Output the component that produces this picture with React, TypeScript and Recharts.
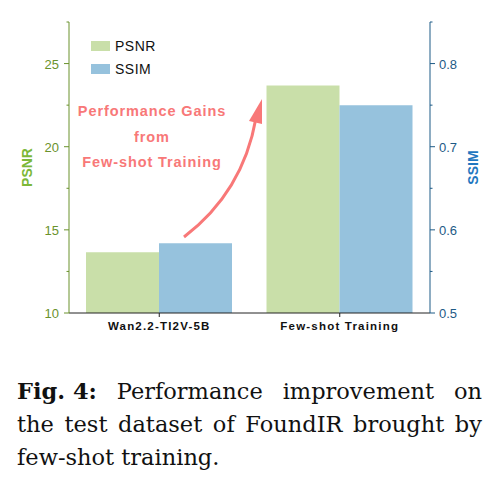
import { BarChart, Bar, XAxis, YAxis, Legend } from 'recharts';

const categories = ['Wan2.2-TI2V-5B', 'Few-shot Training'];
const psnr = [13.66, 23.68];
const ssim = [0.584, 0.75];

const psnrTicks = [10, 12.5, 15, 17.5, 20, 22.5, 25, 27.5];
const ssimTicks = [0.5, 0.55, 0.6, 0.65, 0.7, 0.75, 0.8, 0.85];
const psnrMajor = [10, 15, 20, 25];
const ssimMajor = [0.5, 0.6, 0.7, 0.8];

const data = categories.map((name, i) => ({ name, psnr: psnr[i], ssim: ssim[i] }));

const GREEN_BAR = '#c9dfa9';
const BLUE_BAR = '#96c2dd';
const GREEN_AXIS = '#6a922c';
const GREEN_LABEL = '#7cb838';
const BLUE_AXIS = '#1d5a86';
const BLUE_LABEL = '#1f77c0';
const ARROW = '#f87878';
const SANS = '"Liberation Sans", Arial, sans-serif';

const TICK_SIZE = 4;
const TICK_MARGIN = 6;

function LeftTick(props: any) {
  const { x, y, payload } = props;
  const axisX = x + TICK_SIZE + TICK_MARGIN;
  const major = psnrMajor.includes(payload.value);
  return (
    <g>
      <line x1={axisX - (major ? 5 : 2.5)} x2={axisX} y1={y} y2={y} stroke={GREEN_AXIS} strokeWidth={1} />
      {major && (
        <text x={axisX - 10} y={y} dy={5} textAnchor="end" fontSize={13} fill={GREEN_AXIS} fontFamily={SANS}>
          {payload.value}
        </text>
      )}
    </g>
  );
}

function RightTick(props: any) {
  const { x, y, payload } = props;
  const axisX = x - TICK_SIZE - TICK_MARGIN;
  const major = ssimMajor.includes(payload.value);
  return (
    <g>
      <line x1={axisX} x2={axisX + (major ? 5 : 2.5)} y1={y} y2={y} stroke={BLUE_AXIS} strokeWidth={1} />
      {major && (
        <text x={axisX + 9} y={y} dy={5} textAnchor="start" fontSize={13} fill={BLUE_AXIS} fontFamily={SANS}>
          {payload.value.toFixed(1)}
        </text>
      )}
    </g>
  );
}

function LegendBox() {
  const items = [
    { label: 'PSNR', color: GREEN_BAR },
    { label: 'SSIM', color: BLUE_BAR },
  ];
  return (
    <div style={{ fontFamily: SANS, fontSize: 14, color: '#111' }}>
      {items.map((it) => (
        <div key={it.label} style={{ display: 'flex', alignItems: 'center', height: 23 }}>
          <span style={{ display: 'inline-block', width: 19, height: 10, background: it.color, marginRight: 5 }} />
          <span style={{ letterSpacing: 0.5 }}>{it.label}</span>
        </div>
      ))}
    </div>
  );
}

export default function App() {
  return (
    <div style={{ position: 'absolute', left: 0, top: 0, width: 501, height: 485, background: '#fff', overflow: 'hidden' }}>
      <div style={{ position: 'absolute', left: 0, top: 0 }}>
        <BarChart
          width={501}
          height={350}
          data={data}
          margin={{ top: 22, right: 0, bottom: 7, left: 0 }}
          barCategoryGap={17}
          barGap={0}
        >
          <XAxis
            dataKey="name"
            height={30}
            stroke="#222"
            tickSize={4}
            tickMargin={5}
            tick={{ fontSize: 11.5, fontWeight: 700, fill: '#111', fontFamily: SANS, letterSpacing: 1.2 }}
          />
          <YAxis
            yAxisId="left"
            orientation="left"
            width={69}
            domain={[10, 27.5]}
            ticks={psnrTicks}
            interval={0}
            allowDataOverflow
            stroke={GREEN_AXIS}
            tickLine={false}
            tickSize={TICK_SIZE}
            tickMargin={TICK_MARGIN}
            tick={<LeftTick />}
            label={{
              value: 'PSNR',
              angle: -90,
              position: 'insideLeft',
              offset: 27,
              style: { fill: GREEN_LABEL, fontWeight: 700, fontSize: 14, fontFamily: SANS, textAnchor: 'middle' },
            }}
          />
          <YAxis
            yAxisId="right"
            orientation="right"
            width={71}
            domain={[0.5, 0.85]}
            ticks={ssimTicks}
            interval={0}
            allowDataOverflow
            stroke={BLUE_AXIS}
            tickLine={false}
            tickSize={TICK_SIZE}
            tickMargin={TICK_MARGIN}
            tick={<RightTick />}
            label={{
              value: 'SSIM',
              angle: -90,
              position: 'insideRight',
              offset: 28,
              style: { fill: BLUE_LABEL, fontWeight: 700, fontSize: 14, fontFamily: SANS, textAnchor: 'middle' },
            }}
          />
          <Legend
            layout="vertical"
            align="center"
            verticalAlign="middle"
            content={<LegendBox />}
            wrapperStyle={{ top: 34, left: 91, width: 'auto' }}
          />
          <Bar yAxisId="left" dataKey="psnr" name="PSNR" fill={GREEN_BAR} isAnimationActive={false} />
          <Bar yAxisId="right" dataKey="ssim" name="SSIM" fill={BLUE_BAR} isAnimationActive={false} />
        </BarChart>
      </div>
      <svg width={501} height={350} style={{ position: 'absolute', left: 0, top: 0, pointerEvents: 'none' }}>
        <g fontFamily={SANS} fontSize={14.5} fontWeight={700} fill={ARROW} textAnchor="middle" letterSpacing={0.9}>
          <text x={152} y={116}>Performance Gains</text>
          <text x={152} y={142}>from</text>
          <text x={152} y={167}>Few-shot Training</text>
        </g>
        <path d="M184,237 Q243,192 256,118" fill="none" stroke={ARROW} strokeWidth={3} />
        <polygon points="262,99 249,121 262,124" fill={ARROW} />
      </svg>
      <div
        style={{
          position: 'absolute',
          left: 17,
          top: 375,
          width: 465,
          fontFamily: '"DejaVu Serif", serif',
          fontSize: 22.5,
          lineHeight: '33px',
          color: '#111',
          whiteSpace: 'nowrap',
        }}
      >
        <div style={{ textAlign: 'justify', textAlignLast: 'justify', whiteSpace: 'normal' }}>
          <b style={{ display: 'inline-block' }}>Fig.&nbsp;4:</b> Performance improvement on
        </div>
        <div style={{ textAlign: 'justify', textAlignLast: 'justify', whiteSpace: 'normal' }}>
          the test dataset of FoundIR brought by
        </div>
        <div>few-shot training.</div>
      </div>
    </div>
  );
}
